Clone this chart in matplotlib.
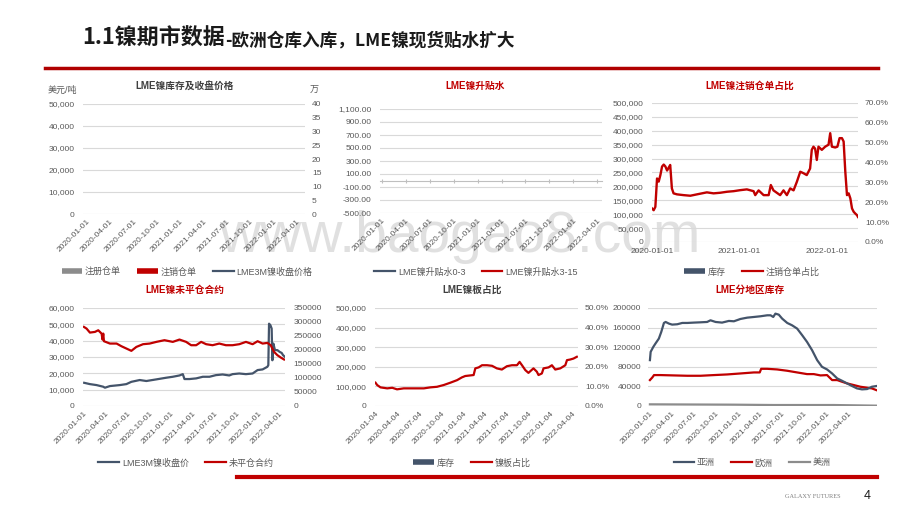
import matplotlib
matplotlib.use('Agg')
import matplotlib.pyplot as plt
import matplotlib.dates as mdates
from matplotlib.lines import Line2D
from matplotlib.ticker import FuncFormatter
import pandas as pd

plt.rcParams['font.family'] = ['Liberation Sans', 'Noto Sans CJK SC']

RED = '#C00000'
DARK = '#44546A'
GRAY = '#8C8C8C'
TXT = '#595959'
GRID = '#D9D9D9'

# ---- data ----
q_labels = ['2020-01-01', '2020-04-01', '2020-07-01', '2020-10-01', '2021-01-01',
            '2021-04-01', '2021-07-01', '2021-10-01', '2022-01-01', '2022-04-01']
q_labels_04 = ['2020-01-04', '2020-04-04', '2020-07-04', '2020-10-04', '2021-01-04',
               '2021-04-04', '2021-07-04', '2021-10-04', '2022-01-04', '2022-04-04']
year_labels = ['2020-01-01', '2021-01-01', '2022-01-01']

# LME镍注销仓单占比 (%)
cancel_dates = ['2020-01-01', '2020-01-08', '2020-01-15', '2020-01-22', '2020-01-29', '2020-02-05',
                '2020-02-12', '2020-02-19', '2020-02-26', '2020-03-04', '2020-03-11', '2020-03-17',
                '2020-03-24', '2020-03-31', '2020-04-14', '2020-05-12', '2020-06-09', '2020-07-07',
                '2020-08-17', '2020-09-14', '2020-10-12', '2020-11-09', '2020-12-07', '2021-01-03',
                '2021-01-31', '2021-02-28', '2021-03-07', '2021-03-21', '2021-04-11', '2021-05-02',
                '2021-05-11', '2021-05-22', '2021-06-19', '2021-07-03', '2021-07-17', '2021-07-31',
                '2021-08-14', '2021-08-28', '2021-09-11', '2021-09-25', '2021-10-08', '2021-10-22',
                '2021-10-29', '2021-11-05', '2021-11-12', '2021-11-19', '2021-11-26', '2021-12-10',
                '2021-12-24', '2022-01-07', '2022-01-14', '2022-01-21', '2022-02-04', '2022-02-13',
                '2022-02-22', '2022-03-04', '2022-03-11', '2022-03-18', '2022-03-25', '2022-04-01',
                '2022-04-08', '2022-04-15', '2022-04-22', '2022-04-29', '2022-05-06', '2022-05-10']
cancel_pct = [16.9, 16.0, 17.7, 32.0, 30.4, 33.7, 38.0, 39.0, 38.0, 36.0, 37.5, 38.8,
              27.0, 24.5, 24.0, 23.6, 23.3, 24.0, 25.0, 24.5, 24.8, 25.3, 25.6, 26.1,
              26.5, 25.6, 23.6, 26.0, 23.6, 23.6, 28.7, 26.0, 23.6, 26.0, 23.6, 27.0,
              26.0, 30.4, 35.4, 34.6, 33.7, 37.0, 46.4, 48.0, 47.0, 41.3, 48.0, 46.4,
              48.0, 49.0, 54.8, 48.0, 47.6, 48.0, 52.3, 52.3, 50.6, 35.4, 23.6, 24.5,
              22.0, 16.9, 15.2, 14.3, 13.5, 12.6]

# LME3M镍收盘价
price_dates = ['2020-01-02', '2020-01-26', '2020-02-23', '2020-03-22', '2020-03-29', '2020-04-19',
               '2020-05-30', '2020-06-27', '2020-07-18', '2020-08-22', '2020-09-19', '2020-10-31',
               '2020-12-11', '2021-01-08', '2021-02-05', '2021-02-19', '2021-02-26', '2021-03-19',
               '2021-04-16', '2021-05-14', '2021-06-11', '2021-07-08', '2021-08-05', '2021-09-02',
               '2021-09-16', '2021-10-14', '2021-11-11', '2021-12-09', '2021-12-30', '2022-01-20',
               '2022-02-09', '2022-02-13', '2022-02-16', '2022-02-22', '2022-02-27', '2022-03-02',
               '2022-03-06', '2022-03-13', '2022-03-23', '2022-04-02', '2022-04-10', '2022-04-16',
               '2022-04-24']
price = [14200, 13400, 12800, 11800, 11200, 12200, 12800, 13400, 14800, 15900, 15300, 16300,
         17300, 17900, 18700, 19500, 16500, 16500, 16900, 17900, 17900, 18900, 19300, 18700,
         19500, 19900, 19500, 19900, 22000, 22400, 24000, 25000, 50400, 49400, 47400, 28000,
         38200, 34200, 34200, 33100, 32500, 31100, 30100]

# 未平仓合约
oi_dates = ['2020-01-01', '2020-01-12', '2020-01-26', '2020-02-16', '2020-03-01', '2020-03-15',
            '2020-03-19', '2020-03-22', '2020-03-25', '2020-04-19', '2020-05-17', '2020-06-06',
            '2020-06-27', '2020-07-18', '2020-08-08', '2020-09-05', '2020-10-03', '2020-10-31',
            '2020-12-04', '2021-01-08', '2021-02-05', '2021-03-05', '2021-03-26', '2021-04-16',
            '2021-05-07', '2021-05-28', '2021-06-24', '2021-07-22', '2021-08-19', '2021-09-16',
            '2021-10-14', '2021-11-11', '2021-12-09', '2021-12-30', '2022-01-20', '2022-02-09',
            '2022-02-23', '2022-03-09', '2022-03-23', '2022-04-06', '2022-04-20']
open_interest = [282400, 276400, 262200, 264600, 270500, 258600, 237300, 258600, 231400, 223000,
                 223000, 213600, 205300, 197000, 211000, 220700, 223000, 229000, 235000, 229000,
                 237300, 229000, 217100, 217100, 229000, 220700, 217100, 223000, 217100, 217100,
                 220700, 229000, 220700, 231400, 223000, 225400, 217100, 193400, 181500, 173200,
                 166100]

# 镍板占比 (%)
plate_dates = ['2020-01-04', '2020-01-11', '2020-01-25', '2020-02-22', '2020-03-14', '2020-04-03',
               '2020-05-01', '2020-06-12', '2020-07-24', '2020-08-20', '2020-09-17', '2020-10-15',
               '2020-11-12', '2020-12-10', '2020-12-30', '2021-01-13', '2021-02-17', '2021-02-24',
               '2021-03-10', '2021-03-24', '2021-04-14', '2021-05-05', '2021-05-25', '2021-06-15',
               '2021-07-06', '2021-07-27', '2021-08-17', '2021-08-28', '2021-09-07', '2021-09-21',
               '2021-10-04', '2021-10-25', '2021-11-08', '2021-11-15', '2021-11-29', '2021-12-06',
               '2021-12-27', '2022-01-10', '2022-01-24', '2022-02-14', '2022-03-07', '2022-03-14',
               '2022-03-27', '2022-04-10', '2022-04-24']
plate_pct = [11.9, 10.7, 9.5, 9.0, 9.3, 8.5, 9.0, 9.0, 9.0, 9.5, 9.8, 10.7,
             11.9, 13.2, 14.6, 15.3, 15.8, 19.2, 19.7, 20.8, 20.8, 20.5, 19.2, 18.6,
             20.3, 20.8, 20.8, 22.5, 20.8, 18.3, 16.9, 19.2, 17.5, 15.8, 16.6, 19.2,
             19.7, 20.8, 18.6, 19.2, 20.8, 23.4, 23.7, 24.2, 25.1]

# 分地区库存
asia_dates = ['2020-01-01', '2020-01-04', '2020-01-15', '2020-01-24', '2020-02-07', '2020-02-17',
              '2020-02-28', '2020-03-06', '2020-03-20', '2020-04-02', '2020-04-23', '2020-05-14',
              '2020-06-04', '2020-07-01', '2020-07-29', '2020-08-25', '2020-09-08', '2020-09-29',
              '2020-10-26', '2020-11-23', '2020-12-14', '2021-01-10', '2021-02-07', '2021-03-07',
              '2021-04-03', '2021-05-01', '2021-05-15', '2021-05-26', '2021-06-04', '2021-06-18',
              '2021-07-02', '2021-07-23', '2021-08-12', '2021-09-02', '2021-09-23', '2021-10-13',
              '2021-11-03', '2021-11-24', '2021-12-14', '2022-01-04', '2022-01-25', '2022-02-15',
              '2022-03-07', '2022-03-28', '2022-04-18', '2022-05-08', '2022-05-29', '2022-06-19',
              '2022-07-09', '2022-07-27']
asia = [93600, 110500, 120700, 127500, 137600, 151200, 169500, 171500, 168100, 166100,
        166800, 169500, 169500, 170200, 170800, 171500, 174900, 171500, 170200, 173600,
        172900, 177600, 180300, 181700, 183100, 185100, 185100, 181700, 188500, 186400,
        178300, 169500, 164700, 158000, 144400, 130800, 113900, 93600, 80000, 74600,
        66400, 56300, 51500, 46100, 40700, 35900, 33900, 34600, 39300, 40700]
europe_dates = ['2020-01-01', '2020-01-11', '2020-01-18', '2020-02-14', '2020-04-09', '2020-06-04',
                '2020-07-29', '2020-09-22', '2020-11-16', '2021-01-10', '2021-03-07', '2021-03-31',
                '2021-04-06', '2021-05-01', '2021-06-11', '2021-07-23', '2021-09-02', '2021-10-13',
                '2021-11-10', '2021-12-08', '2022-01-04', '2022-01-25', '2022-02-15', '2022-03-07',
                '2022-03-28', '2022-04-25', '2022-05-22', '2022-06-19', '2022-07-09', '2022-07-27']
europe = [52900, 58300, 63100, 63100, 62400, 61700, 61700, 63100, 64400, 66400,
          68500, 68500, 75900, 75900, 74600, 71900, 68500, 65100, 65100, 62400,
          63100, 52900, 52900, 49500, 46100, 42700, 39300, 37300, 35900, 32500]
america_dates = ['2020-01-01', '2020-12-14', '2021-05-28', '2022-02-01', '2022-07-27']
america = [3400, 2700, 2000, 2000, 700]

# ---- figure ----
W, H = 920, 518
fig = plt.figure(figsize=(W / 100, H / 100), dpi=100)


def box(x0, y0, x1, y1):
    return [x0 / W, 1 - y1 / H, (x1 - x0) / W, (y1 - y0) / H]


def px(x, y):
    return x / W, 1 - y / H


def style(ax, grid=False):
    for s in ax.spines.values():
        s.set_visible(False)
    ax.set_facecolor('none')
    ax.tick_params(length=0, labelsize=6, colors=TXT, pad=6)
    ax.tick_params(axis='x', pad=3)
    if grid:
        ax.yaxis.grid(True, color=GRID, lw=0.8)
        ax.set_axisbelow(True)


def rotate(ax):
    plt.setp(ax.get_xticklabels(), rotation=45, ha='right', rotation_mode='anchor')


def date_axis(ax, ticks, start, end):
    ax.set_xlim(pd.Timestamp(start), pd.Timestamp(end))
    ax.set_xticks(pd.to_datetime(ticks))
    ax.xaxis.set_major_formatter(mdates.DateFormatter('%Y-%m-%d'))


comma = FuncFormatter(lambda v, p: f'{v:,.0f}')
comma2 = FuncFormatter(lambda v, p: f'{v:,.2f}')
plain = FuncFormatter(lambda v, p: f'{v:.0f}')
pct = FuncFormatter(lambda v, p: f'{v:.1f}%')


def bar_h(c):
    return Line2D([], [], color=c, lw=4, solid_capstyle='butt')


def line_h(c):
    return Line2D([], [], color=c, lw=1.6)


def legend(handles, labels, cx, cy):
    fig.legend(handles, labels, loc='center', bbox_to_anchor=px(cx, cy), ncol=len(labels),
               frameon=False, fontsize=6.5, labelcolor=TXT, handlelength=2.3,
               handletextpad=0.3, columnspacing=1.8, borderpad=0)


def title(text, cx, cy, color):
    fig.text(*px(cx, cy), text, ha='center', va='center', fontsize=7,
             fontweight='bold', color=color)


# ===== 1: LME镍库存及收盘价格 =====
ax1 = fig.add_axes(box(83, 104, 305, 214))
style(ax1, grid=True)
ax1.set_ylim(0, 50000)
ax1.set_yticks(range(0, 50001, 10000))
ax1.yaxis.set_major_formatter(comma)
ax1.set_xlim(-0.15, 9.35)
ax1.set_xticks(range(len(q_labels)))
ax1.set_xticklabels(q_labels)
rotate(ax1)
ax1r = ax1.twinx()
style(ax1r)
ax1r.set_ylim(0, 40)
ax1r.set_yticks(range(0, 41, 5))
ax1r.tick_params(axis='y', pad=5)
title('LME镍库存及收盘价格', 185, 86, '#404040')
fig.text(*px(48, 90), '美元/吨', ha='left', va='center', fontsize=6.5, color=TXT)
fig.text(*px(310, 90), '万', ha='left', va='center', fontsize=6.5, color=TXT)
legend([bar_h(GRAY), bar_h(RED), line_h(DARK)], ['注册仓单', '注销仓单', 'LME3M镍收盘价格'], 187, 272)

# ===== 2: LME镍升贴水 =====
ax2 = fig.add_axes(box(380, 109, 602, 213))
style(ax2, grid=True)
ax2.set_ylim(-500, 1100)
ax2.set_yticks(range(-500, 1101, 200))
ax2.yaxis.set_major_formatter(comma2)
ax2.set_xlim(-0.08, 9.2)
ax2.set_xticks(range(len(q_labels)))
ax2.set_xticklabels(q_labels)
ax2.spines['bottom'].set_visible(True)
ax2.spines['bottom'].set_position(('data', 0))
ax2.spines['bottom'].set_color('#BFBFBF')
ax2.tick_params(axis='x', length=3, direction='inout', color='#BFBFBF', pad=25)
rotate(ax2)
title('LME镍升贴水', 475, 86, RED)
legend([line_h(DARK), line_h(RED)], ['LME镍升贴水0-3', 'LME镍升贴水3-15'], 476, 272)

# ===== 3: LME镍注销仓单占比 =====
ax3 = fig.add_axes(box(652, 103, 858, 242))
style(ax3, grid=True)
ax3.set_ylim(0, 500000)
ax3.set_yticks(range(0, 500001, 50000))
ax3.yaxis.set_major_formatter(comma)
date_axis(ax3, year_labels, '2020-01-01', '2022-05-10')
ax3.tick_params(axis='x', pad=4)
plt.setp(ax3.get_xticklabels(), ha='center')
ax3r = ax3.twinx()
style(ax3r)
ax3r.set_ylim(0, 70)
ax3r.set_yticks(range(0, 71, 10))
ax3r.yaxis.set_major_formatter(pct)
ax3r.tick_params(axis='y', pad=5)
ax3r.plot(pd.to_datetime(cancel_dates), cancel_pct, color=RED, lw=1.7)
title('LME镍注销仓单占比', 750, 86, RED)
legend([bar_h(DARK), line_h(RED)], ['库存', '注销仓单占比'], 752, 272)

# ===== 4: LME镍未平仓合约 =====
ax4 = fig.add_axes(box(83, 308, 285, 406))
style(ax4, grid=True)
ax4.set_ylim(0, 60000)
ax4.set_yticks(range(0, 60001, 10000))
ax4.yaxis.set_major_formatter(comma)
date_axis(ax4, q_labels, '2019-12-28', '2022-04-24')
rotate(ax4)
ax4.plot(pd.to_datetime(price_dates), price, color=DARK, lw=1.6)
ax4r = ax4.twinx()
style(ax4r)
ax4r.set_ylim(0, 350000)
ax4r.set_yticks(range(0, 350001, 50000))
ax4r.yaxis.set_major_formatter(plain)
ax4r.tick_params(axis='y', pad=6)
ax4r.plot(pd.to_datetime(oi_dates), open_interest, color=RED, lw=1.6)
title('LME镍未平仓合约', 185, 290, RED)
legend([line_h(DARK), line_h(RED)], ['LME3M镍收盘价', '未平仓合约'], 186, 463)

# ===== 5: LME镍板占比 =====
ax5 = fig.add_axes(box(375, 308, 578, 406))
style(ax5, grid=True)
ax5.set_ylim(0, 500000)
ax5.set_yticks(range(0, 500001, 100000))
ax5.yaxis.set_major_formatter(comma)
date_axis(ax5, q_labels_04, '2020-01-02', '2022-04-29')
rotate(ax5)
ax5r = ax5.twinx()
style(ax5r)
ax5r.set_ylim(0, 50)
ax5r.set_yticks(range(0, 51, 10))
ax5r.yaxis.set_major_formatter(pct)
ax5r.tick_params(axis='y', pad=5)
ax5r.plot(pd.to_datetime(plate_dates), plate_pct, color=RED, lw=1.6)
title('LME镍板占比', 472, 290, '#404040')
legend([bar_h(DARK), line_h(RED)], ['库存', '镍板占比'], 472, 463)

# ===== 6: LME分地区库存 =====
ax6 = fig.add_axes(box(648, 308, 877, 406))
style(ax6, grid=True)
ax6.set_ylim(0, 200000)
ax6.set_yticks(range(0, 200001, 40000))
ax6.yaxis.set_major_formatter(plain)
ax6.tick_params(axis='y', pad=5)
date_axis(ax6, q_labels, '2019-12-24', '2022-07-30')
rotate(ax6)
ax6.plot(pd.to_datetime(america_dates), america, color=GRAY, lw=1.6)
ax6.plot(pd.to_datetime(europe_dates), europe, color=RED, lw=1.6)
ax6.plot(pd.to_datetime(asia_dates), asia, color=DARK, lw=1.6)
title('LME分地区库存', 750, 290, RED)
legend([line_h(DARK), line_h(RED), line_h(GRAY)], ['亚洲', '欧洲', '美洲'], 752, 463)

# ===== slide decoration =====
fig.text(*px(82, 45), '1.1镍期市数据', fontsize=15.8, fontweight='bold',
         family=['Noto Sans CJK SC'], va='baseline', ha='left', color='#1a1a1a')
fig.text(*px(225, 45), '-欧洲仓库入库，LME镍现货贴水扩大', fontsize=12.7, fontweight='bold',
         family=['Noto Sans CJK SC'], va='baseline', ha='left', color='#1a1a1a')
fig.add_artist(Line2D([45 / W, 878 / W], [1 - 68 / H] * 2, color='#B00000', lw=2.5))
fig.add_artist(Line2D([237 / W, 877 / W], [1 - 477 / H] * 2, color='#C00000', lw=3))
fig.text(*px(785, 496), 'GALAXY FUTURES', fontsize=4.5, family=['Liberation Serif'],
         color='#7f7f7f', ha='left', va='center')
fig.text(*px(867, 496), '4', fontsize=9, color='#1a1a1a', ha='center', va='center')

# watermark
fig.text(*px(460, 237), 'www.baogao8.com', fontsize=41, color='#CCCCCC', alpha=0.6,
         ha='center', va='center', zorder=-1)

fig.savefig('out.png', dpi=100)
